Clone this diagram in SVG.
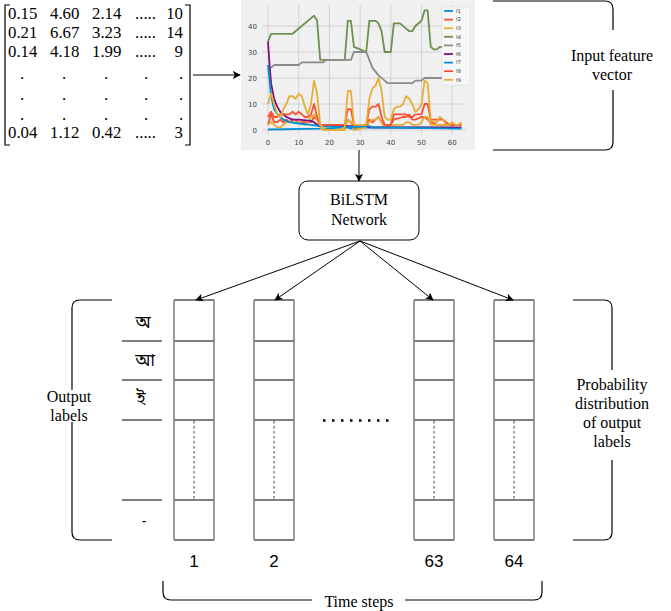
<svg xmlns="http://www.w3.org/2000/svg" width="671" height="611" viewBox="0 0 671 611">
<style>
.serif{font-family:"Liberation Serif","DejaVu Serif",serif;fill:#000}
.lbl{font-size:16px;text-anchor:middle}
.mat{font-size:16.8px}
.num{font-family:"Liberation Sans",Arial,sans-serif;font-size:17px;text-anchor:middle;fill:#000}
.bn{font-family:"Noto Sans Bengali","Noto Serif Bengali","Lohit Bengali","Noto Sans",sans-serif;font-size:17px;text-anchor:middle;fill:#000}
.brace{fill:none;stroke:#000;stroke-width:1.2}
.tick{font-family:"DejaVu Sans","Liberation Sans",sans-serif;font-size:7px;fill:#444}
.leg{font-family:"DejaVu Sans","Liberation Sans",sans-serif;font-size:5px;fill:#333}
.grid{stroke:#cbcbcb;stroke-width:0.8}
.series{fill:none;stroke-width:1.8;stroke-linejoin:round;vector-effect:non-scaling-stroke}
.side{stroke:#808080;stroke-width:1.6}
.hl{stroke:#000;stroke-width:1}
.dash{stroke:#808080;stroke-width:1.5;stroke-dasharray:2.5 2.5}
.conn{stroke:#000;stroke-width:1;fill:none}
</style>
<defs>
<marker id="ah" viewBox="0 0 10 10" refX="9" refY="5" markerWidth="8" markerHeight="8" orient="auto" markerUnits="userSpaceOnUse">
<path d="M0,0 L10,5 L0,10 L2.5,5 Z" fill="#000"/>
</marker>
</defs>
<rect width="671" height="611" fill="#fff"/>

<g id="matrix">
<path class="brace" d="M10,5 L5,5 L5,145 L10,145" stroke-width="1.5"/>
<path class="brace" d="M185,5 L190,5 L190,145 L185,145" stroke-width="1.5"/>
<g class="serif mat">
<text x="8" y="19">0.15</text><text x="50" y="19">4.60</text><text x="92" y="19">2.14</text><text x="135" y="19">.....</text><text x="183" y="19" text-anchor="end">10</text>
<text x="8" y="38">0.21</text><text x="50" y="38">6.67</text><text x="92" y="38">3.23</text><text x="135" y="38">.....</text><text x="183" y="38" text-anchor="end">14</text>
<text x="8" y="57">0.14</text><text x="50" y="57">4.18</text><text x="92" y="57">1.99</text><text x="135" y="57">.....</text><text x="183" y="57" text-anchor="end">9</text>
<text x="22" y="79" text-anchor="middle">.</text><text x="64" y="79" text-anchor="middle">.</text><text x="106" y="79" text-anchor="middle">.</text><text x="146" y="79" text-anchor="middle">.</text><text x="181" y="79" text-anchor="middle">.</text>
<text x="22" y="100" text-anchor="middle">.</text><text x="64" y="100" text-anchor="middle">.</text><text x="106" y="100" text-anchor="middle">.</text><text x="146" y="100" text-anchor="middle">.</text><text x="181" y="100" text-anchor="middle">.</text>
<text x="22" y="120" text-anchor="middle">.</text><text x="64" y="120" text-anchor="middle">.</text><text x="106" y="120" text-anchor="middle">.</text><text x="146" y="120" text-anchor="middle">.</text><text x="181" y="120" text-anchor="middle">.</text>
<text x="8" y="138">0.04</text><text x="50" y="138">1.12</text><text x="92" y="138">0.42</text><text x="135" y="138">.....</text><text x="183" y="138" text-anchor="end">3</text>
</g>
</g>

<g id="chart">
<rect x="241" y="0" width="234" height="150" fill="#f0f0f0"/>
<g class="grid">
<line x1="262" y1="26" x2="466" y2="26"/><line x1="262" y1="52" x2="466" y2="52"/><line x1="262" y1="78" x2="466" y2="78"/><line x1="262" y1="104" x2="466" y2="104"/><line x1="262" y1="130" x2="466" y2="130"/>
<line x1="268" y1="5" x2="268" y2="135"/><line x1="298.7" y1="5" x2="298.7" y2="135"/><line x1="329.4" y1="5" x2="329.4" y2="135"/><line x1="360.1" y1="5" x2="360.1" y2="135"/><line x1="390.8" y1="5" x2="390.8" y2="135"/><line x1="421.5" y1="5" x2="421.5" y2="135"/><line x1="452.2" y1="5" x2="452.2" y2="135"/>
</g>
<g class="tick" text-anchor="end">
<text x="257" y="28.5">40</text><text x="257" y="54.5">30</text><text x="257" y="80.5">20</text><text x="257" y="106.5">10</text><text x="257" y="132.5">0</text>
</g>
<g class="tick" text-anchor="middle">
<text x="268" y="145">0</text><text x="298.7" y="145">10</text><text x="329.4" y="145">20</text><text x="360.1" y="145">30</text><text x="390.8" y="145">40</text><text x="421.5" y="145">50</text><text x="452.2" y="145">60</text>
</g>
<g transform="translate(268,130) scale(3.07,-2.6)">
<polyline class="series" stroke="#008fd5" points="0,0.2 17,0.5 26,1 27,0.5 33,1 63,0.8"/>
<polyline class="series" stroke="#fc4f30" points="0,2 1,6 2,3 3,3 4,4 5,3 6,4 7,3 8,4 9,4 10,3 14,3 15,5 16,4 17,2 25,2 26,4 27,3 28,1 32,2 33,4 34,3 35,4 36,5 37,3 38,1 40,2 41,4 44,5 45,5 46,6 47,4 48,4 50,5 51,5 52,4 53,3 55,2 60,2 63,2"/>
<polyline class="series" stroke="#e5ae38" points="0,2 1,3 2,2 3,1 4,1 5,2 6,3 10,3 12,2 13,3 14,5 15,6 16,4 17,1 18,0 25,0 26,4 27,3 28,0 32,1 33,3 34,4 35,4 36,5 37,3 38,1 40,1 41,2 44,2 45,3 46,3 47,2 49,2 50,3 51,5 52,5 53,2 63,2"/>
<polyline class="series" stroke="#6d904f" points="0,34 1,37 8,37 15,44 16,42 17,27 25,27 26,42 27,42 28,32 30,31 32,30 33,42 35,42 36,41 37,38 38,30 40,30 41,41 43,41 45,39 46,38 47,38 48,40 50,42 51,46 52,46 53,32 54,31 55,31 56,32 58,32 60,27 63,25"/>
<polyline class="series" stroke="#8b8b8b" points="0,24 1,24 2,25 10,25 11,26 18,26 19,27 27,27 28,30 32,30 33,27 34,24 36,21 38,19 39,18 47,18 48,19 50,19 51,20 60,20 61,21 63,24"/>
<polyline class="series" stroke="#810f7c" points="0,34 0.5,25 1,18 2,12 3,9 4,7 5,6 6,5 7,4.5 8,4 10,4 14,3.5 15,3 16,2 17,1.5 32,1.5 33,1 63,1"/>
<polyline class="series" stroke="#008fd5" points="0,25 1,13 2,8 3,6 4,5 5,4 7,3 10,2.5 14,2 17,1.5 20,1.5 25,1 33,1.5 34,1 63,0.5"/>
<polyline class="series" stroke="#fc4f30" points="0,5 1,7 2,5 3,5 4,6 7,6 8,7 9,6 10,7 11,6 12,5 13,5 14,6 15,10 16,5 17,2 25,2 26,8 27,8 28,2 32,2 33,8 34,9 35,9 36,10 37,5 38,2 40,2 41,6 45,6 46,5 47,5 48,6 50,6 51,10 52,10 53,4 57,4 58,3 59,2 63,2"/>
<polyline class="series" stroke="#e5ae38" points="0,10 1,14 2,10 3,6 4,5 5,8 6,10 7,13 8,13 9,12 10,14 11,13 12,9 13,6 14,10 15,19 16,14 17,2 18,1 19,0 23,0 25,1 26,15 27,15 28,2 32,2 33,12 34,16 35,17 36,20 37,15 38,5 39,4 40,4 41,8 42,9 43,9 44,10 45,13 46,12 47,10 48,7 49,8 50,10 51,19 52,18 53,4 54,3 55,3 56,5 57,4 58,2 59,2 60,3 61,2 62,2 63,3"/>
</g>
<rect x="442" y="7" width="28" height="78" fill="#f7f7f7" stroke="#dddddd" stroke-width="0.6"/>
<g stroke-width="1.8">
<line x1="444" y1="11" x2="453" y2="11" stroke="#008fd5"/>
<line x1="444" y1="19.6" x2="453" y2="19.6" stroke="#fc4f30"/>
<line x1="444" y1="28.2" x2="453" y2="28.2" stroke="#e5ae38"/>
<line x1="444" y1="36.8" x2="453" y2="36.8" stroke="#6d904f"/>
<line x1="444" y1="45.4" x2="453" y2="45.4" stroke="#8b8b8b"/>
<line x1="444" y1="54" x2="453" y2="54" stroke="#810f7c"/>
<line x1="444" y1="62.6" x2="453" y2="62.6" stroke="#008fd5"/>
<line x1="444" y1="71.2" x2="453" y2="71.2" stroke="#fc4f30"/>
<line x1="444" y1="79.8" x2="453" y2="79.8" stroke="#e5ae38"/>
</g>
<g class="leg">
<text x="456" y="12.8">f1</text><text x="456" y="21.4">f2</text><text x="456" y="30">f3</text><text x="456" y="38.6">f4</text><text x="456" y="47.2">f5</text><text x="456" y="55.8">f6</text><text x="456" y="64.4">f7</text><text x="456" y="73">f8</text><text x="456" y="81.6">f9</text>
</g>
</g>

<g id="input-brace">
<path class="brace" d="M493,1 L605,1 Q613,1 613,9 L613,30 M613,90 L613,142 Q613,150 605,150 L493,150"/>
<text class="serif lbl" x="612" y="61">Input feature</text>
<text class="serif lbl" x="612" y="80">vector</text>
</g>

<g id="bilstm">
<rect x="299" y="181" width="120" height="59" rx="9" fill="#fff" stroke="#000" stroke-width="1"/>
<text class="serif lbl" x="359" y="205">BiLSTM</text>
<text class="serif lbl" x="359" y="225">Network</text>
</g>

<g id="output-labels">
<path class="brace" d="M112,300 L80,300 Q72,300 72,308 L72,390 M72,422 L72,532 Q72,540 80,540 L112,540"/>
<text class="serif lbl" x="69" y="402">Output</text>
<text class="serif lbl" x="69" y="421">labels</text>
<g class="hl">
<line x1="122" y1="341" x2="162" y2="341"/><line x1="122" y1="380" x2="162" y2="380"/><line x1="122" y1="420" x2="162" y2="420"/><line x1="122" y1="500" x2="162" y2="500"/>
</g>
<text class="bn" x="143" y="328">অ</text>
<text class="bn" x="145" y="366">আ</text>
<text class="bn" x="141" y="404">ই</text>
<text class="num" x="144" y="526" style="font-size:14px">-</text>
</g>

<g id="col1">
<g class="hl"><line x1="174" y1="300" x2="214" y2="300"/><line x1="174" y1="341" x2="214" y2="341"/><line x1="174" y1="380" x2="214" y2="380"/><line x1="174" y1="420" x2="214" y2="420"/><line x1="174" y1="500" x2="214" y2="500"/><line x1="174" y1="540" x2="214" y2="540"/></g>
<line class="dash" x1="194" y1="421" x2="194" y2="499"/>
<g class="side"><line x1="174" y1="300" x2="174" y2="540"/><line x1="214" y1="300" x2="214" y2="540"/></g>
<text class="num" x="194" y="567">1</text>
</g>
<g id="col2">
<g class="hl"><line x1="254" y1="300" x2="294" y2="300"/><line x1="254" y1="341" x2="294" y2="341"/><line x1="254" y1="380" x2="294" y2="380"/><line x1="254" y1="420" x2="294" y2="420"/><line x1="254" y1="500" x2="294" y2="500"/><line x1="254" y1="540" x2="294" y2="540"/></g>
<line class="dash" x1="274" y1="421" x2="274" y2="499"/>
<g class="side"><line x1="254" y1="300" x2="254" y2="540"/><line x1="294" y1="300" x2="294" y2="540"/></g>
<text class="num" x="274" y="567">2</text>
</g>
<g id="col63">
<g class="hl"><line x1="414" y1="300" x2="454" y2="300"/><line x1="414" y1="341" x2="454" y2="341"/><line x1="414" y1="380" x2="454" y2="380"/><line x1="414" y1="420" x2="454" y2="420"/><line x1="414" y1="500" x2="454" y2="500"/><line x1="414" y1="540" x2="454" y2="540"/></g>
<line class="dash" x1="434" y1="421" x2="434" y2="499"/>
<g class="side"><line x1="414" y1="300" x2="414" y2="540"/><line x1="454" y1="300" x2="454" y2="540"/></g>
<text class="num" x="434" y="567">63</text>
</g>
<g id="col64">
<g class="hl"><line x1="494" y1="300" x2="534" y2="300"/><line x1="494" y1="341" x2="534" y2="341"/><line x1="494" y1="380" x2="534" y2="380"/><line x1="494" y1="420" x2="534" y2="420"/><line x1="494" y1="500" x2="534" y2="500"/><line x1="494" y1="540" x2="534" y2="540"/></g>
<line class="dash" x1="514" y1="421" x2="514" y2="499"/>
<g class="side"><line x1="494" y1="300" x2="494" y2="540"/><line x1="534" y1="300" x2="534" y2="540"/></g>
<text class="num" x="514" y="567">64</text>
</g>

<g id="ellipsis">
<line x1="323" y1="420.5" x2="389" y2="420.5" stroke="#000" stroke-width="2.5" stroke-dasharray="2.5 6.5"/>
</g>

<g id="prob-brace">
<path class="brace" d="M573,300 L604,300 Q612,300 612,308 L612,370 M612,460 L612,532 Q612,540 604,540 L573,540"/>
<text class="serif lbl" x="612" y="390">Probability</text>
<text class="serif lbl" x="612" y="409">distribution</text>
<text class="serif lbl" x="612" y="428">of output</text>
<text class="serif lbl" x="612" y="447">labels</text>
</g>

<g id="time-brace">
<path class="brace" d="M163,581 L163,592 Q163,600 171,600 L312,600 M405,600 L534,600 Q542,600 542,592 L542,581"/>
<text class="serif lbl" x="359" y="607">Time steps</text>
</g>

<g id="connectors">
<line class="conn" x1="193" y1="75" x2="240" y2="75" marker-end="url(#ah)"/>
<line class="conn" x1="359" y1="150" x2="359" y2="181" stroke="#555" stroke-width="1.3" marker-end="url(#ah)"/>
<line class="conn" x1="360" y1="241" x2="196" y2="300" marker-end="url(#ah)"/>
<line class="conn" x1="360" y1="241" x2="275" y2="300" marker-end="url(#ah)"/>
<line class="conn" x1="360" y1="241" x2="433" y2="300" marker-end="url(#ah)"/>
<line class="conn" x1="360" y1="241" x2="513" y2="300" marker-end="url(#ah)"/>
</g>
</svg>
